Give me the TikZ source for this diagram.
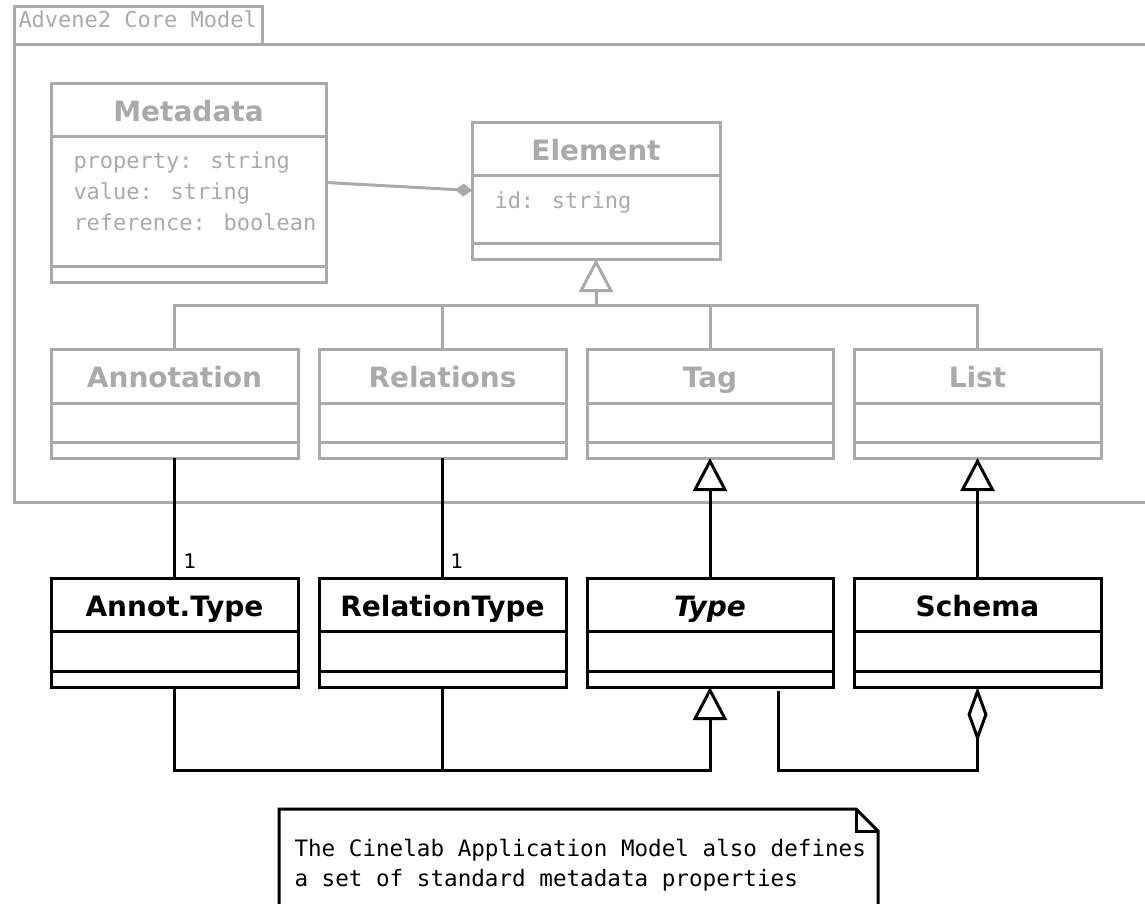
\documentclass[tikz,border=0pt]{standalone}
\usepackage{fontspec}
\setmainfont{DejaVu Sans}
\newfontfamily\monof{DejaVu Sans Mono}
\usetikzlibrary{arrows.meta,calc}
\definecolor{pkggray}{RGB}{170,170,170}
\newcommand\umlcls[8]{%
  \node[draw=#8, rectangle, inner sep=0pt, outer sep=0pt, anchor=north west,
        minimum width={(#4-#2)*1pt}, minimum height={(#5-#3)*1pt}] (#1) at (#2,#3) {};
  \draw[#8] (#2,#6) -- (#4,#6) (#2,#7) -- (#4,#7);
}
\tikzset{
  clstitle/.style={font=\fontsize{28}{32}\selectfont\bfseries, inner sep=0pt, anchor=base},
  attrtext/.style={font=\monof\fontsize{22}{26}\selectfont, inner sep=0pt, anchor=base west},
  notetext/.style={font=\monof\fontsize{22.6}{26}\selectfont, inner sep=0pt, anchor=base west},
  gentip/.style={-{Triangle[open,length=33pt,width=34pt]}},
}
\begin{document}
\begin{tikzpicture}[x=1pt,y=-1pt,line width=3pt]
\useasboundingbox[fill=white] (0,0) rectangle (1145,903);
% package frame
\draw[pkggray] (14,6) rectangle (262,44);
\draw[pkggray] (1160,44) -- (14,44) -- (14,502) -- (1160,502);
\node[attrtext, text=pkggray] (pkgname) at (17,27) {Advene2 Core Model};
% gray classes
\umlcls{meta}{51}{83}{326}{282}{136}{266}{pkggray}
\node[clstitle, text=pkggray] (metaT) at ({(51+326)/2},121) {Metadata};
\node[attrtext, text=pkggray] (metaA1) at (72,168) {property: string};
\node[attrtext, text=pkggray] (metaA2) at (72,199) {value: string};
\node[attrtext, text=pkggray] (metaA3) at (72,230) {reference: boolean};
\umlcls{elem}{472}{122}{720}{259}{175}{243}{pkggray}
\node[clstitle, text=pkggray] (elemT) at (596,160) {Element};
\node[attrtext, text=pkggray] (elemA1) at (493,208) {id: string};
\umlcls{annot}{51}{349}{298}{458}{403}{442}{pkggray}
\node[clstitle, text=pkggray] (annotT) at ({(51+298)/2},387) {Annotation};
\umlcls{rel}{319}{349}{566}{458}{403}{442}{pkggray}
\node[clstitle, text=pkggray] (relT) at ({(319+566)/2},387) {Relations};
\umlcls{tag}{587}{349}{833}{458}{403}{442}{pkggray}
\node[clstitle, text=pkggray] (tagT) at ({(587+833)/2},387) {Tag};
\umlcls{list}{854}{349}{1101}{458}{403}{442}{pkggray}
\node[clstitle, text=pkggray] (listT) at ({(854+1101)/2},387) {List};
% black classes
\umlcls{atype}{51}{578}{298}{687}{631}{671}{black}
\node[clstitle] (atypeT) at ({(51+298)/2},616) {Annot.Type};
\umlcls{rtype}{319}{578}{566}{687}{631}{671}{black}
\node[clstitle] (rtypeT) at ({(319+566)/2},616) {RelationType};
\umlcls{type}{587}{578}{833}{687}{631}{671}{black}
\node[clstitle, font=\fontsize{28}{32}\selectfont\bfseries\itshape] (typeT) at ({(587+833)/2},616) {Type};
\umlcls{schema}{854}{578}{1101}{687}{631}{671}{black}
\node[clstitle] (schemaT) at ({(854+1101)/2},616) {Schema};
% gray connectors
\draw[pkggray, -{Diamond[length=17pt,width=13pt]}] (meta.east) -- (elem.west);
\coordinate (gj) at (596,305);
\draw[pkggray] (annot.north) |- (gj) (list.north) |- (gj)
  (rel.north) -- (rel.north |- gj) (tag.north) -- (tag.north |- gj);
\draw[pkggray, gentip] (gj) -- (elem.south);
% black connectors
\draw (annot.south) -- (atype.north);
\node[font=\fontsize{20}{24}\selectfont, inner sep=0pt] (m1) at (190,561) {1};
\draw (rel.south) -- (rtype.north);
\node[font=\fontsize{20}{24}\selectfont, inner sep=0pt] (m2) at (457,561) {1};
\draw[gentip] (type.north) -- (tag.south);
\draw[gentip] (schema.north) -- (list.south);
\coordinate (tb) at (type.south |- 0,770);
\draw[gentip] (atype.south) |- (tb) -- (type.south);
\draw (rtype.south) -- (rtype.south |- tb);
\coordinate (tout) at (778,691);
\draw[-{Diamond[open,length=55pt,width=20pt]}] (tout) |- (schema.south |- tb) -- (schema.south);
% note
\draw[fill=white] (279,920) -- (279,809) -- (856,809) -- (878,831) -- (878,920);
\draw (856,809) -- (856,831) -- (878,831);
\node[notetext] (note1) at (293,856) {The Cinelab Application Model also defines};
\node[notetext] (note2) at (293,886) {a set of standard metadata properties};
\end{tikzpicture}
\end{document}
